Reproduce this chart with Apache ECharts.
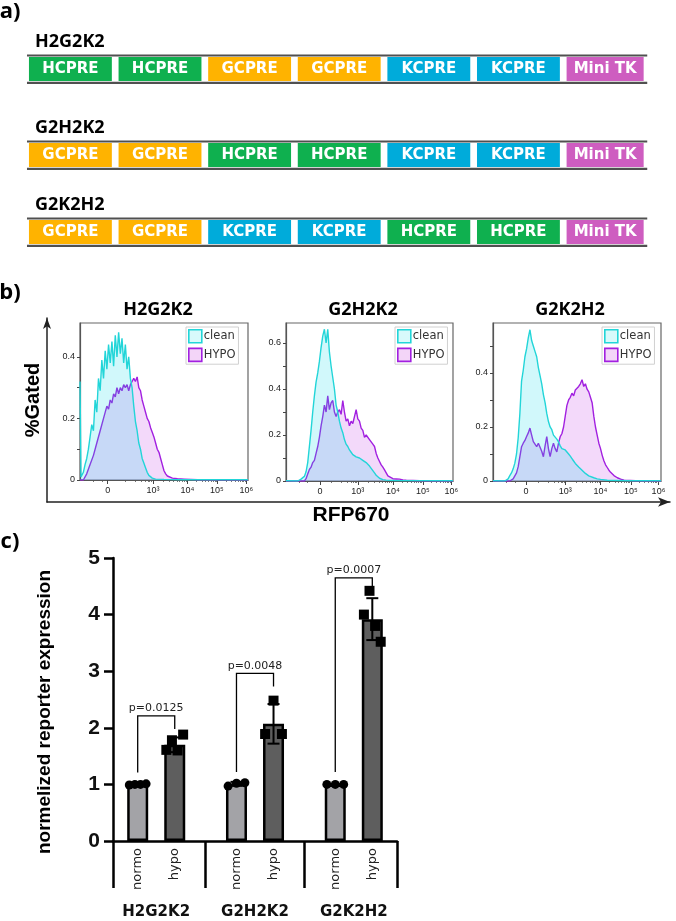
<!DOCTYPE html>
<html><head><meta charset="utf-8">
<style>html,body{margin:0;padding:0;background:#fff}#c{width:676px;height:921px}</style>
<script src="https://cdn.jsdelivr.net/npm/echarts@6.0.0/dist/echarts.min.js"></script>
</head><body><div id="c"></div>
<script>
// ---------- a) constructs ----------
const constructNames = ['H2G2K2', 'G2H2K2', 'G2K2H2'];
const constructH2G2K2 = ['HCPRE', 'HCPRE', 'GCPRE', 'GCPRE', 'KCPRE', 'KCPRE', 'Mini TK'];
const constructG2H2K2 = ['GCPRE', 'GCPRE', 'HCPRE', 'HCPRE', 'KCPRE', 'KCPRE', 'Mini TK'];
const constructG2K2H2 = ['GCPRE', 'GCPRE', 'KCPRE', 'KCPRE', 'HCPRE', 'HCPRE', 'Mini TK'];

// ---------- b) flow histograms (x = display position 0..100 of the biexponential axis, y = fraction gated) ----------
const histTitles = ['H2G2K2', 'G2H2K2', 'G2K2H2'];
const histXTickLabels = ['0', '10³', '10⁴', '10⁵', '10⁶'];
const histXTickPos1 = [16.5, 43.5, 64, 81.5, 99];
const histXTickPos2 = [20.4, 43, 64, 82, 99];
const histXTickPos3 = [19.6, 43, 64, 82, 98.5];
const histMinorTicks = [8, 13, 27, 33, 36.5, 39, 40.5, 41.5, 42.3,
  49.3, 53, 55.6, 57.7, 59.3, 60.7, 62, 63,
  69.4, 72.6, 74.8, 76.6, 78, 79.2, 80.3, 81.2,
  87.1, 90.1, 92.2, 93.9, 95.2, 96.4, 97.4, 98.2];
const histYMax = [0.51, 0.687, 0.585];
const histYLabels1 = [0, 0.2, 0.4];
const histYLabels2 = [0, 0.2, 0.4, 0.6];
const histYLabels3 = [0, 0.2, 0.4];
const histYTicks1 = [0, 0.1, 0.2, 0.3, 0.4];
const histYTicks2 = [0, 0.1, 0.2, 0.3, 0.4, 0.5, 0.6];
const histYTicks3 = [0, 0.1, 0.2, 0.3, 0.4, 0.5];

const clean1 = [[0,0.32],[0.6,0.01],[1,0.01],[2,0.025],[3,0.05],[4,0.07],[5,0.1],[6,0.14],[7,0.18],[8,0.16],[9,0.26],[10,0.22],[11,0.33],[12,0.29],[13,0.39],[14,0.33],[15,0.42],[16,0.36],[17,0.44],[18,0.38],[19,0.45],[20,0.37],[21,0.47],[22,0.4],[23,0.48],[24,0.41],[25,0.46],[26,0.38],[27,0.44],[28,0.36],[29,0.4],[30,0.33],[31,0.3],[32,0.24],[33,0.19],[34,0.16],[35,0.12],[36,0.1],[37,0.07],[38,0.055],[39,0.04],[40,0.025],[41,0.015],[42,0.01],[43,0.006],[45,0.003],[50,0.002],[60,0.001],[100,0.001]];
const hypo1 = [[0,0],[2,0],[4,0.02],[6,0.05],[8,0.08],[10,0.12],[12,0.16],[14,0.2],[16,0.24],[17,0.23],[18,0.26],[19,0.25],[20,0.28],[21,0.27],[22,0.3],[23,0.28],[24,0.3],[25,0.29],[26,0.31],[27,0.3],[28,0.31],[29,0.29],[30,0.31],[31,0.32],[32,0.33],[33,0.32],[34,0.335],[35,0.3],[36,0.29],[37,0.26],[38,0.24],[39,0.22],[40,0.2],[41,0.19],[42,0.17],[43,0.155],[44,0.14],[45,0.12],[46,0.1],[47,0.09],[48,0.07],[49,0.05],[50,0.03],[51,0.02],[52,0.013],[53,0.01],[55,0.006],[58,0.004],[62,0.003],[66,0.002],[70,0.001],[100,0]];
const clean2 = [[0,0.001],[7,0],[9,0.008],[11,0.02],[12,0.04],[13,0.08],[14,0.15],[15,0.22],[16,0.3],[17,0.37],[18,0.43],[19,0.47],[20,0.52],[21,0.58],[22,0.63],[23,0.66],[24,0.6],[25,0.66],[26,0.56],[27,0.5],[28,0.45],[29,0.4],[30,0.33],[31,0.3],[32,0.26],[33,0.23],[34,0.21],[35,0.18],[36,0.16],[37,0.15],[38,0.135],[39,0.125],[40,0.115],[41,0.11],[42,0.105],[43,0.1],[44,0.1],[45,0.095],[46,0.09],[47,0.088],[48,0.08],[49,0.075],[50,0.065],[51,0.055],[52,0.045],[53,0.035],[54,0.025],[55,0.018],[56,0.012],[57,0.008],[58,0.006],[60,0.004],[65,0.002],[100,0.001]];
const hypo2 = [[0,0],[11,0],[12,0.01],[13,0.03],[14,0.05],[15,0.06],[16,0.08],[17,0.09],[18,0.12],[19,0.15],[20,0.19],[21,0.24],[22,0.28],[23,0.33],[24,0.3],[25,0.37],[26,0.31],[27,0.34],[28,0.35],[29,0.3],[30,0.28],[31,0.3],[32,0.31],[33,0.29],[34,0.35],[35,0.3],[36,0.26],[37,0.27],[38,0.24],[39,0.26],[40,0.25],[41,0.28],[42,0.31],[43,0.27],[44,0.26],[45,0.23],[46,0.22],[47,0.19],[48,0.2],[49,0.2],[50,0.18],[51,0.17],[52,0.16],[53,0.15],[54,0.12],[55,0.1],[56,0.085],[57,0.07],[58,0.06],[59,0.048],[60,0.035],[61,0.022],[62,0.017],[64,0.01],[66,0.009],[68,0.008],[70,0.005],[72,0.003],[80,0.001],[100,0]];
const clean3 = [[0,0.001],[7,0],[9,0.008],[10,0.02],[11,0.03],[12,0.045],[13,0.066],[14,0.1],[15,0.16],[16,0.25],[17,0.37],[18,0.41],[19,0.46],[20,0.49],[21,0.53],[22,0.56],[23,0.52],[24,0.5],[25,0.48],[26,0.46],[27,0.42],[28,0.39],[29,0.36],[30,0.32],[31,0.29],[32,0.25],[33,0.22],[34,0.2],[35,0.19],[36,0.17],[37,0.163],[38,0.155],[39,0.145],[40,0.13],[41,0.12],[42,0.118],[43,0.115],[44,0.108],[45,0.1],[46,0.092],[47,0.083],[48,0.074],[49,0.065],[50,0.058],[51,0.052],[52,0.045],[53,0.04],[54,0.034],[55,0.028],[56,0.023],[57,0.019],[58,0.016],[60,0.012],[62,0.008],[64,0.006],[68,0.003],[80,0.001],[100,0.001]];
const hypo3 = [[0,0],[10,0],[12,0.008],[13,0.015],[14,0.03],[15,0.053],[16,0.09],[17,0.127],[18,0.14],[19,0.15],[20,0.165],[21,0.178],[22,0.196],[23,0.17],[24,0.146],[25,0.15],[26,0.127],[27,0.14],[28,0.133],[29,0.11],[30,0.09],[31,0.13],[32,0.164],[33,0.12],[34,0.09],[35,0.12],[36,0.14],[37,0.12],[38,0.108],[39,0.14],[40,0.164],[41,0.175],[42,0.2],[43,0.24],[44,0.28],[45,0.3],[46,0.31],[47,0.325],[48,0.315],[49,0.337],[50,0.34],[51,0.35],[52,0.36],[53,0.375],[54,0.35],[55,0.36],[56,0.34],[57,0.33],[58,0.31],[59,0.29],[60,0.24],[61,0.2],[62,0.17],[63,0.14],[64,0.12],[65,0.095],[66,0.075],[67,0.06],[68,0.05],[69,0.04],[70,0.032],[72,0.02],[74,0.012],[76,0.007],[78,0.003],[85,0.001],[100,0]];

// ---------- c) bar chart ----------
const groups = ['H2G2K2', 'G2H2K2', 'G2K2H2'];
const conditions = ['normo', 'hypo'];
const normoMean = [1.0, 1.01, 1.0];
const normoSD = [0.01, 0.035, 0.005];
const hypoMean = [1.70, 2.07, 3.92];
const hypoSD = [0.13, 0.35, 0.37];
const normoPoints = [[0.99, 1.0, 1.0, 1.01], [0.97, 1.02, 1.03], [1.0, 1.0, 1.0]];
const hypoPoints = [[1.61, 1.78, 1.6, 1.88], [1.89, 2.48, 1.89], [4.0, 4.42, 3.8, 3.52]];
const pLabels = ['p=0.0125', 'p=0.0048', 'p=0.0007'];
const bracketTop = [2.21, 2.96, 4.65];
const bracketLeftEnd = [1.21, 1.22, 1.22];
const bracketRightEnd = [1.98, 2.73, 4.5];
const barYTicks = [0, 1, 2, 3, 4, 5];

// ================= build =================
const chart = echarts.init(document.getElementById('c'));
const constructs = [constructH2G2K2, constructG2H2K2, constructG2K2H2];
const rowCenter = [0, 1.055, 2];   // layout: vertical slot of each construct row
const elementColors = {'HCPRE':'#0FB04F', 'GCPRE':'#FFB300', 'KCPRE':'#00ABDA', 'Mini TK':'#CE5DC0'};
const histClean = [clean1, clean2, clean3];
const histHypo = [hypo1, hypo2, hypo3];
const histXTickPos = [histXTickPos1, histXTickPos2, histXTickPos3];
const histYLabels = [histYLabels1, histYLabels2, histYLabels3];
const histYTicks = [histYTicks1, histYTicks2, histYTicks3];
const CYAN = '#22D5D8', PURPLE = '#A220E0';
const CYAN_FILL = 'rgba(0,215,235,0.18)', PURPLE_FILL = 'rgba(200,80,230,0.22)';

const histGrids = [
  {left: 80, top: 323, width: 168, height: 157},
  {left: 286, top: 323, width: 167, height: 158},
  {left: 493, top: 323, width: 168, height: 158}
];
const legendLeft = [186, 395, 602];
const titleX = [158, 363, 570];

const grid = [
  {left: 20, top: 69, width: 636.2, height: 163},
  ...histGrids.map(g => Object.assign({show: true, borderColor: '#666', borderWidth: 1.2, backgroundColor: 'transparent'}, g)),
  {left: 47, top: 318, width: 623, height: 184},
  {left: 113, top: 558, width: 284, height: 283}
];

const xAxis = [
  {gridIndex: 0, type: 'value', min: -0.1, max: 7, show: false}
];
const yAxis = [
  {gridIndex: 0, type: 'value', min: 0, max: 2, inverse: true, show: false}
];
for (let i = 0; i < 3; i++) {
  const pos = histXTickPos[i];
  xAxis.push({
    gridIndex: 1 + i, type: 'value', min: 0, max: 100, position: 'bottom',
    axisLine: {show: true, lineStyle: {color: '#555', width: 1.2}},
    axisTick: {show: true, customValues: pos, length: 4, lineStyle: {color: '#444', width: 1}},
    axisLabel: {customValues: pos, formatter: v => histXTickLabels[pos.indexOf(v)], fontSize: 9,
      fontFamily: 'Liberation Sans', color: '#222', margin: 6},
    splitLine: {show: false}
  });
  yAxis.push({
    gridIndex: 1 + i, type: 'value', min: 0, max: histYMax[i], position: 'left',
    axisLine: {show: true, lineStyle: {color: '#555', width: 1.2}},
    axisTick: {show: true, customValues: histYTicks[i], length: 3, lineStyle: {color: '#444', width: 1}},
    axisLabel: {customValues: histYLabels[i], formatter: v => v === 0 ? '0' : v.toFixed(1), fontSize: 9,
      fontFamily: 'Liberation Sans', color: '#222', margin: 5},
    splitLine: {show: false}
  });
}
for (let i = 0; i < 3; i++) {
  xAxis.push({
    gridIndex: 1 + i, type: 'value', min: 0, max: 100, position: 'bottom',
    axisLine: {show: false},
    axisTick: {show: true, customValues: histMinorTicks, length: 2, lineStyle: {color: '#555', width: 0.8}},
    axisLabel: {show: false}, splitLine: {show: false}
  });
}
// arrows of panel b (xAxis 7, yAxis 4)
xAxis.push({gridIndex: 4, type: 'value', min: 0, max: 1, position: 'bottom',
  axisLine: {show: true, symbol: ['none', 'arrow'], symbolSize: [7, 12], lineStyle: {color: '#222', width: 1.5}},
  axisTick: {show: false}, axisLabel: {show: false}, splitLine: {show: false}});
yAxis.push({gridIndex: 4, type: 'value', min: 0, max: 1, position: 'left',
  axisLine: {show: true, symbol: ['none', 'arrow'], symbolSize: [6, 11], lineStyle: {color: '#222', width: 1.5}},
  axisTick: {show: false}, axisLabel: {show: false}, splitLine: {show: false}});
// bar chart axes (xAxis 8, 9; yAxis 5)
const condPos = [2, 5, 10, 13, 18, 21];
xAxis.push({gridIndex: 5, type: 'value', min: 0, max: 23, position: 'bottom',
  axisLine: {show: true, onZero: false, lineStyle: {color: '#000', width: 2.5}},
  axisTick: {show: true, customValues: [0, 7.5, 15.5, 23], length: 47, lineStyle: {color: '#000', width: 2.5}},
  axisLabel: {customValues: condPos, formatter: v => conditions[condPos.indexOf(v) % 2], rotate: 90,
    fontSize: 13, fontFamily: 'DejaVu Sans', color: '#222', margin: 7},
  splitLine: {show: false}});
const groupPos = [3.5, 11.5, 19.5];
xAxis.push({gridIndex: 5, type: 'value', min: 0, max: 23, position: 'bottom',
  axisLine: {show: false}, axisTick: {show: false},
  axisLabel: {customValues: groupPos, formatter: v => groups[groupPos.indexOf(v)], fontSize: 15,
    fontWeight: 'bold', fontFamily: 'DejaVu Sans', color: '#111', margin: 64},
  splitLine: {show: false}});
yAxis.push({gridIndex: 5, type: 'value', min: 0, max: 5, interval: 1, position: 'left',
  axisLine: {show: true, lineStyle: {color: '#000', width: 2.5}},
  axisTick: {show: true, length: 9, lineStyle: {color: '#000', width: 2.5}},
  axisLabel: {customValues: barYTicks, fontSize: 21, fontWeight: 'bold', fontFamily: 'Liberation Sans', color: '#111', margin: 13},
  splitLine: {show: false}});

const series = [];
// a) constructs
series.push({
  type: 'custom', xAxisIndex: 0, yAxisIndex: 0, silent: true,
  data: constructNames.map((n, i) => [i, rowCenter[i]]),
  renderItem: (params, api) => {
    const row = api.value(0), ry = api.value(1);
    const els = constructs[row];
    const c0 = api.coord([-0.022, ry]);
    const c1 = api.coord([6.9, ry]);
    const cy = c0[1];
    const ch = [];
    ch.push({type: 'line', shape: {x1: c0[0], y1: cy - 13.5, x2: c1[0], y2: cy - 13.5}, style: {stroke: '#505050', lineWidth: 2.2}});
    ch.push({type: 'line', shape: {x1: c0[0], y1: cy + 13.8, x2: c1[0], y2: cy + 13.8}, style: {stroke: '#505050', lineWidth: 2.2}});
    els.forEach((e, i) => {
      const w = e === 'Mini TK' ? 0.86 : 0.925;
      const a = api.coord([i, ry]), b = api.coord([i + w, ry]);
      ch.push({type: 'rect', shape: {x: a[0], y: cy - 12, width: b[0] - a[0], height: 24}, style: {fill: elementColors[e]}});
      ch.push({type: 'text', x: (a[0] + b[0]) / 2, y: cy + 0.5, style: {text: e, fill: '#fff',
        font: 'bold 15px "DejaVu Sans"', align: 'center', verticalAlign: 'middle'}});
    });
    ch.push({type: 'text', x: c0[0] + 8, y: cy - 27, style: {text: constructNames[row], fill: '#000',
      font: 'bold 18px "Open Sans"', align: 'left', verticalAlign: 'middle'}});
    return {type: 'group', children: ch};
  }
});
// b) histograms
for (let i = 0; i < 3; i++) {
  series.push({type: 'line', name: 'HYPO', xAxisIndex: 1 + i, yAxisIndex: 1 + i, data: histHypo[i],
    symbol: 'none', showSymbol: false, lineStyle: {color: PURPLE, width: 1.4}, itemStyle: {color: PURPLE},
    areaStyle: {color: PURPLE_FILL, opacity: 1}, z: 2, silent: true});
  series.push({type: 'line', name: 'clean', xAxisIndex: 1 + i, yAxisIndex: 1 + i, data: histClean[i],
    symbol: 'none', showSymbol: false, lineStyle: {color: CYAN, width: 1.4}, itemStyle: {color: CYAN},
    areaStyle: {color: CYAN_FILL, opacity: 1}, z: 3, silent: true});
}
// c) bars
series.push({type: 'bar', xAxisIndex: 8, yAxisIndex: 5, barWidth: 21, barGap: '-100%',
  data: normoMean.map((m, g) => [8 * g + 2, m]),
  itemStyle: {color: '#A3A3A7', borderColor: '#000', borderWidth: 2.5}, z: 2});
series.push({type: 'bar', xAxisIndex: 8, yAxisIndex: 5, barWidth: 21, barGap: '-100%',
  data: hypoMean.map((m, g) => [8 * g + 5, m]),
  itemStyle: {color: '#5E5E5E', borderColor: '#000', borderWidth: 2.5}, z: 2});
// error bars
series.push({type: 'custom', xAxisIndex: 8, yAxisIndex: 5, z: 4, silent: true,
  data: normoMean.map((m, g) => [8 * g + 2, m, normoSD[g]]).concat(hypoMean.map((m, g) => [8 * g + 5, m, hypoSD[g]])),
  renderItem: (params, api) => {
    const x = api.value(0), m = api.value(1), s = api.value(2);
    const t = api.coord([x, m + s]), b = api.coord([x, m - s]);
    const hw = 6, st = {stroke: '#000', lineWidth: 2};
    return {type: 'group', children: [
      {type: 'line', shape: {x1: t[0], y1: t[1], x2: b[0], y2: b[1]}, style: st},
      {type: 'line', shape: {x1: t[0] - hw, y1: t[1], x2: t[0] + hw, y2: t[1]}, style: st},
      {type: 'line', shape: {x1: b[0] - hw, y1: b[1], x2: b[0] + hw, y2: b[1]}, style: st}
    ]};
  }});
function spread(pts, center) {
  const n = pts.length;
  return pts.map((v, j) => [center - 0.68 + (n > 1 ? j * 1.36 / (n - 1) : 0.68), v]);
}
series.push({type: 'scatter', xAxisIndex: 8, yAxisIndex: 5, symbol: 'circle', symbolSize: 9, z: 5,
  itemStyle: {color: '#000', opacity: 1}, silent: true,
  data: normoPoints.flatMap((p, g) => spread(p, 8 * g + 2))});
series.push({type: 'scatter', xAxisIndex: 8, yAxisIndex: 5, symbol: 'rect', symbolSize: 10, z: 5,
  itemStyle: {color: '#000', opacity: 1}, silent: true,
  data: hypoPoints.flatMap((p, g) => spread(p, 8 * g + 5))});
// significance brackets
series.push({type: 'custom', xAxisIndex: 8, yAxisIndex: 5, z: 6, silent: true,
  data: groups.map((g, i) => [8 * i + 2, bracketTop[i], i]),
  renderItem: (params, api) => {
    const i = api.value(2);
    const L = api.coord([8 * i + 2, bracketLeftEnd[i]]);
    const T1 = api.coord([8 * i + 2, bracketTop[i]]);
    const T2 = api.coord([8 * i + 5, bracketTop[i]]);
    const R = api.coord([8 * i + 5, bracketRightEnd[i]]);
    return {type: 'group', children: [
      {type: 'polyline', shape: {points: [L, T1, T2, R]}, style: {stroke: '#000', lineWidth: 1.3, fill: 'none'}},
      {type: 'text', x: (T1[0] + T2[0]) / 2, y: T1[1] - 2, style: {text: pLabels[i], fill: '#222',
        font: '11px "DejaVu Sans"', align: 'center', verticalAlign: 'bottom'}}
    ]};
  }});

const legend = legendLeft.map(l => ({
  left: l, top: 327, orient: 'vertical', itemWidth: 13, itemHeight: 13, itemGap: 4,
  padding: [2, 3, 2, 2], selectedMode: false, borderColor: '#d0d0d0', borderWidth: 1, backgroundColor: '#fff',
  textStyle: {fontSize: 11.5, fontFamily: 'DejaVu Sans', color: '#333', padding: [0, 0, 0, -3]},
  data: [
    {name: 'clean', icon: 'rect', itemStyle: {color: '#D8FAFB', borderColor: CYAN, borderWidth: 1.6}},
    {name: 'HYPO', icon: 'rect', itemStyle: {color: '#F3D5F8', borderColor: PURPLE, borderWidth: 1.6}}
  ]
}));

const txt = (x, y, text, font, extra) => Object.assign({type: 'text', x, y, silent: true,
  style: {text, font, fill: '#000', align: 'center', verticalAlign: 'middle'}}, extra || {});
const graphic = [
  txt(10, 12, 'a)', 'bold 22px "Open Sans"'),
  txt(10, 293, 'b)', 'bold 22px "Open Sans"'),
  txt(10, 542, 'c)', 'bold 22px "Open Sans"'),
  ...histTitles.map((t, i) => txt(titleX[i], 310, t, 'bold 18px "Open Sans"')),
  txt(351, 515, 'RFP670', 'bold 21px "Liberation Sans"'),
  txt(33, 400, '%Gated', 'bold 20px "Liberation Sans"', {rotation: Math.PI / 2}),
  txt(45, 712, 'normelized reporter expression', 'bold 19px "Liberation Sans"', {rotation: Math.PI / 2})
];

chart.setOption({
  animation: false,
  backgroundColor: '#fff',
  grid, xAxis, yAxis, series, legend, graphic
});
</script>
</body></html>
